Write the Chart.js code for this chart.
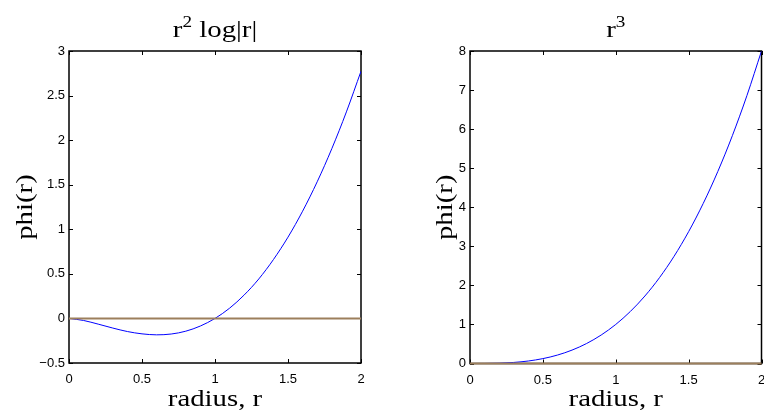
<!DOCTYPE html>
<html lang="en">
<head>
    <meta charset="UTF-8">
    <title>phi(r)</title>
    <script src="https://cdn.jsdelivr.net/npm/chart.js"></script>
    <style>
        body { margin: 0; overflow: hidden; background: #fff; }
        canvas { position: absolute; top: 0; }
    </style>
</head>
<body>
    <canvas id="leftChart" width="382" height="416" style="left:0"></canvas>
    <canvas id="rightChart" width="400" height="416" style="left:382px"></canvas>
<script>
    // values
    var radius = [0, 0.1, 0.2, 0.3, 0.4, 0.5, 0.6, 0.7, 0.8, 0.9, 1, 1.1, 1.2, 1.3, 1.4, 1.5, 1.6, 1.7, 1.8, 1.9, 2];
    var phiLog = [0, -0.023, -0.064, -0.108, -0.147, -0.173, -0.184, -0.175, -0.143, -0.085, 0, 0.115, 0.263, 0.443, 0.66, 0.912, 1.203, 1.533, 1.904, 2.317, 2.773];
    var phiCube = [0, 0.001, 0.008, 0.027, 0.064, 0.125, 0.216, 0.343, 0.512, 0.729, 1, 1.331, 1.728, 2.197, 2.744, 3.375, 4.096, 4.913, 5.832, 6.859, 8];
    var zeroR = [0, 2];
    var zeroPhi = [0, 0];
    var radiusTicks = [0, 0.5, 1, 1.5, 2];
    var logTicks = [-0.5, 0, 0.5, 1, 1.5, 2, 2.5, 3];
    var cubeTicks = [0, 1, 2, 3, 4, 5, 6, 7, 8];

    var SERIF = '"Liberation Serif", "Times New Roman", serif';

    function points(xs, ys){
        return xs.map(function(x, i){ return {x: x, y: ys[i]}; });
    }

    function drawRich(ctx, parts, x, y, angle, stretch){
        ctx.save();
        ctx.translate(x, y);
        ctx.rotate(angle);
        ctx.scale(stretch, 1);
        ctx.textAlign = 'left';
        ctx.textBaseline = 'alphabetic';
        var w = 0;
        parts.forEach(function(p){
            ctx.font = (p.sup ? '16px ' : '24px ') + SERIF;
            w += ctx.measureText(p.t).width;
        });
        var cx = -w / 2;
        parts.forEach(function(p){
            ctx.font = (p.sup ? '16px ' : '24px ') + SERIF;
            ctx.fillText(p.t, cx, p.sup ? -10 : 0);
            cx += ctx.measureText(p.t).width;
        });
        ctx.restore();
    }

    // matlab style box, inward ticks and labels (drawn under the lines)
    var matlabFrame = {
        id: 'matlabFrame',
        beforeDatasetsDraw: function(chart, args, opts){
            var ctx = chart.ctx, a = chart.chartArea;
            var sx = chart.scales.x, sy = chart.scales.y;
            var tl = 4;
            ctx.save();
            ctx.strokeStyle = '#000';
            ctx.lineWidth = 1;
            ctx.beginPath();
            sx.ticks.forEach(function(t){
                var px = Math.round(sx.getPixelForValue(t.value)) + 0.5;
                ctx.moveTo(px, a.bottom); ctx.lineTo(px, a.bottom - tl);
                ctx.moveTo(px, a.top); ctx.lineTo(px, a.top + tl);
            });
            sy.ticks.forEach(function(t){
                var py = Math.round(sy.getPixelForValue(t.value)) + 0.5;
                ctx.moveTo(a.left, py); ctx.lineTo(a.left + tl, py);
                ctx.moveTo(a.right, py); ctx.lineTo(a.right - tl, py);
            });
            ctx.stroke();
            ctx.lineWidth = 1.5;
            ctx.strokeRect(a.left, a.top, a.right - a.left, a.bottom - a.top);
            ctx.fillStyle = '#000';
            var mid = (a.left + a.right) / 2;
            drawRich(ctx, opts.title, mid, 37, 0, 1.2);
            drawRich(ctx, [{t: 'radius, r'}], mid, 406, 0, 1.2);
            drawRich(ctx, [{t: 'phi(r)'}], opts.yLabelX, (a.top + a.bottom) / 2, -Math.PI / 2, 1.2);
            ctx.restore();
        }
    };

    function makeChart(id, values, yTicks, frame){
        var canvas = document.getElementById(id);
        var W = canvas.width;
        return new Chart(canvas, {
            type: 'scatter',
            data: {
                datasets: [
                    {
                        data: points(zeroR, zeroPhi),
                        showLine: true,
                        borderColor: '#9c7f5c',
                        borderWidth: 2,
                        pointRadius: 0,
                        clip: 4
                    },
                    {
                        data: points(radius, values),
                        showLine: true,
                        borderColor: '#0000ff',
                        borderWidth: 1,
                        pointRadius: 0,
                        cubicInterpolationMode: 'monotone'
                    }
                ]
            },
            options: {
                responsive: false,
                animation: false,
                devicePixelRatio: 1,
                layout: {
                    padding: {top: 51, right: W - frame.right, bottom: 0, left: 0}
                },
                scales: {
                    x: {
                        type: 'linear',
                        min: 0,
                        max: 2,
                        grid: {display: false, drawTicks: false},
                        border: {display: false},
                        afterBuildTicks: function(s){ s.ticks = radiusTicks.map(function(v){ return {value: v}; }); },
                        afterFit: function(s){ s.height = 416 - frame.bottom; },
                        ticks: {
                            padding: 9,
                            color: '#000',
                            font: {family: '"Liberation Sans", Arial', size: 13},
                            maxRotation: 0,
                            callback: function(v){ return String(v); }
                        }
                    },
                    y: {
                        min: yTicks[0],
                        max: yTicks[yTicks.length - 1],
                        grid: {display: false, drawTicks: false},
                        border: {display: false},
                        afterBuildTicks: function(s){ s.ticks = yTicks.map(function(v){ return {value: v}; }); },
                        afterFit: function(s){ s.width = frame.left; },
                        ticks: {
                            padding: 4,
                            color: '#000',
                            font: {family: '"Liberation Sans", Arial', size: 13},
                            callback: function(v){ return v < 0 ? '\u2212' + Math.abs(v) : String(v); }
                        }
                    }
                },
                plugins: {
                    legend: {display: false},
                    tooltip: {enabled: false},
                    matlabFrame: frame
                }
            },
            plugins: [matlabFrame]
        });
    }

    makeChart('leftChart', phiLog, logTicks, {
        left: 69, right: 361, bottom: 363, yLabelX: 32,
        title: [{t: 'r'}, {t: '2', sup: true}, {t: ' log|r|'}]
    });
    makeChart('rightChart', phiCube, cubeTicks, {
        left: 88, right: 379.5, bottom: 363.5, yLabelX: 70,
        title: [{t: 'r'}, {t: '3', sup: true}]
    });
</script>
</body>
</html>
